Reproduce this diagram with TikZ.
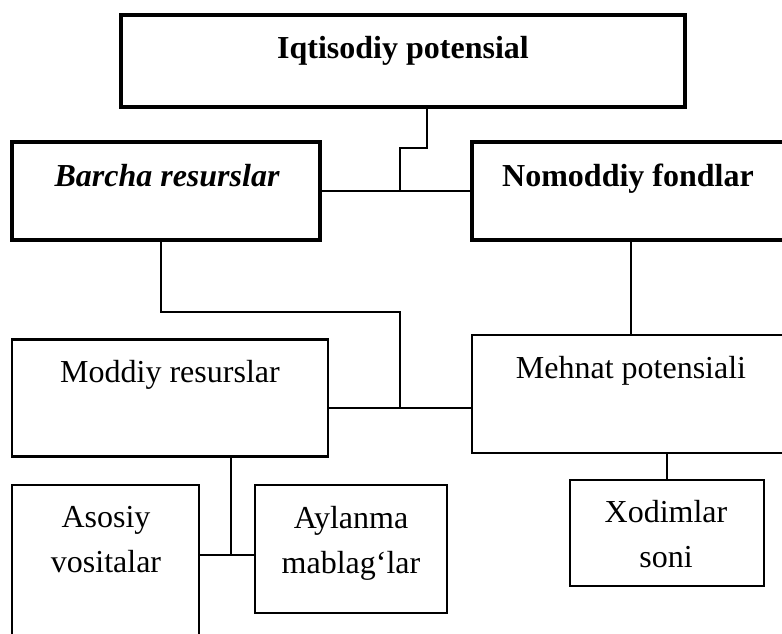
\documentclass[tikz,border=0pt]{standalone}
\usepackage{fontspec}
\setmainfont{Liberation Serif}
\usetikzlibrary{positioning}

\begin{document}
\begin{tikzpicture}[x=1pt,y=-1pt,
    thickbox/.style={draw, line width=3.4pt, inner sep=0pt},
    thinbox/.style={draw, line width=2.2pt, inner sep=0pt},
    link/.style={line width=1.8pt},
    lbl/.style={font=\fontsize{32}{45}\selectfont, inner sep=0pt, align=center},
    boldlbl/.style={lbl, font=\fontsize{32}{45}\selectfont\bfseries}
  ]
    \path[use as bounding box, clip] (0,0) rectangle (782,633);

    \node[thickbox, minimum width=564pt, minimum height=92pt] (iq) at (403,61) {};
    \node[thickbox, minimum width=308pt, minimum height=98pt] (barcha) at (166,191) {};
    \node[thickbox, minimum width=330pt, minimum height=98pt] (nomod) at (637,191) {};
    \node[thinbox, minimum width=316pt, minimum height=117pt] (moddiy) at (170,398) {};
    \node[thinbox, minimum width=330pt, minimum height=118pt] (mehnat) at (637,394) {};
    \node[thinbox, minimum width=187pt, minimum height=170pt] (asosiy) at (105.5,570) {};
    \node[thinbox, minimum width=192pt, minimum height=128pt] (aylanma) at (351,549) {};
    \node[thinbox, minimum width=194pt, minimum height=106pt] (xodim) at (667,533) {};

    \node[boldlbl, anchor=base] (iqtxt) at (403,58) {Iqtisodiy potensial};
    \node[boldlbl, anchor=base] (barchatxt) at (167,186) {\itshape Barcha resurslar};
    \node[boldlbl, anchor=base] (nomodtxt) at (628,186) {Nomoddiy fondlar};
    \node[lbl, anchor=base] (moddiytxt) at (170,382) {Moddiy resurslar};
    \node[lbl, anchor=base] (mehnattxt) at (631,378) {Mehnat potensiali};
    \node[lbl, anchor=north] (asosiytxt) at (106,506) {Asosiy\\vositalar};
    \node[lbl, anchor=north] (aylanmatxt) at (351,506) {Aylanma\\mablag‘lar};
    \node[lbl, anchor=north] (xodimtxt) at (666,500) {Xodimlar\\soni};

    \coordinate (k1) at (427,148);
    \coordinate (j1) at (400,191);
    \coordinate (k2) at (161,312);
    \coordinate (j2) at (400,408);
    \coordinate (k3) at (631,300);
    \coordinate (j3) at (231,555);

    \draw[link] (iq.south -| k1) -- (k1) -| (j1);
    \draw[link] (barcha) -- (nomod);
    \draw[link] (barcha.south -| k2) -- (k2) -| (j2);
    \draw[link] (moddiy.east |- j2) -- (mehnat.west |- j2);
    \draw[link] (nomod.south -| k3) -- (mehnat.north -| k3);
    \draw[link] (moddiy.south -| j3) -- (j3);
    \draw[link] (asosiy.east |- j3) -- (aylanma.west |- j3);
    \draw[link] (xodim.north) -- (mehnat.south -| xodim.north);
  \end{tikzpicture}
\end{document}
